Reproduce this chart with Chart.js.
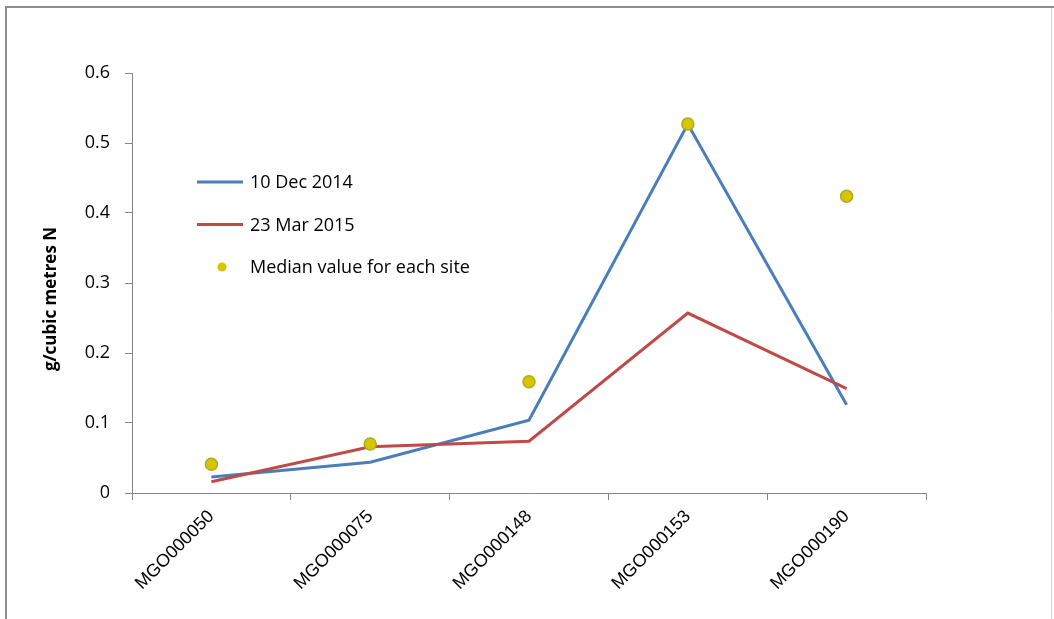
<!DOCTYPE html>
<html>
<head>
<meta charset="utf-8">
<script src="https://cdn.jsdelivr.net/npm/chart.js@4"></script>
<style>
  html, body { margin: 0; padding: 0; background: #ffffff; }
  #wrap { width: 1054px; height: 619px; position: relative; }
</style>
</head>
<body>
<div id="wrap"><canvas id="c" width="1054" height="619"></canvas></div>
<script>
// Monitoring sites along the x axis
const sites = ['MGO000050', 'MGO000075', 'MGO000148', 'MGO000153', 'MGO000190'];

// Nitrogen concentration, g/cubic metres N
const dec2014 = [0.023, 0.044, 0.104, 0.527, 0.126];
const mar2015 = [0.016, 0.066, 0.074, 0.257, 0.149];
const medianBySite = [0.041, 0.070, 0.159, 0.527, 0.424];

// Y axis tick labels
const yTickLabels = ['0', '0.1', '0.2', '0.3', '0.4', '0.5', '0.6'];

const seriesNames = ['10 Dec 2014', '23 Mar 2015', 'Median value for each site'];
const yAxisTitle = 'g/cubic metres N';

const BLUE = '#4a7ebb';
const RED = '#be4b48';
const DOT_FILL = '#d8c400';
const DOT_EDGE = '#a9ae1c';
const AXIS_GREY = '#868686';

// Grey frame around the figure
const framePlugin = {
  id: 'frame',
  beforeDraw(chart) {
    const ctx = chart.ctx;
    ctx.save();
    ctx.fillStyle = '#ffffff';
    ctx.fillRect(0, 0, chart.width, chart.height);
    ctx.strokeStyle = '#8e8e8e';
    ctx.lineWidth = 2;
    ctx.beginPath();
    ctx.moveTo(6, chart.height);
    ctx.lineTo(6, 7);
    ctx.lineTo(chart.width, 7);
    ctx.stroke();
    ctx.strokeStyle = '#d6d6d6';
    ctx.lineWidth = 1;
    ctx.beginPath();
    ctx.moveTo(1051.5, 8);
    ctx.lineTo(1051.5, chart.height);
    ctx.stroke();
    ctx.restore();
  }
};

// Vertical axis title, set a little below the plot's mid-height
const yTitlePlugin = {
  id: 'yTitle',
  afterDraw(chart) {
    const {ctx, chartArea} = chart;
    ctx.save();
    ctx.translate(51, (chartArea.top + chartArea.bottom) / 2 + 16);
    ctx.rotate(-Math.PI / 2);
    ctx.font = 'bold 17px "Open Sans"';
    ctx.fillStyle = '#000000';
    ctx.textAlign = 'center';
    ctx.textBaseline = 'middle';
    ctx.fillText(yAxisTitle, 0, 0);
    ctx.restore();
  }
};

// Legend drawn inside the plot area, left side
const insideLegend = {
  id: 'insideLegend',
  afterDatasetsDraw(chart) {
    const {ctx, chartArea} = chart;
    const x0 = chartArea.left + 65;
    const y0 = chartArea.top + 109;
    const gap = 42.5;
    ctx.save();
    ctx.font = '18px "Open Sans"';
    ctx.textBaseline = 'middle';
    ctx.textAlign = 'left';
    chart.data.datasets.forEach((ds, i) => {
      const y = y0 + i * gap;
      if (ds.showLine === false) {
        ctx.beginPath();
        ctx.arc(x0 + 25, y, 4.5, 0, Math.PI * 2);
        ctx.fillStyle = ds.pointBackgroundColor;
        ctx.fill();
      } else {
        ctx.beginPath();
        ctx.moveTo(x0, y);
        ctx.lineTo(x0 + 46, y);
        ctx.strokeStyle = ds.borderColor;
        ctx.lineWidth = 3;
        ctx.stroke();
      }
      ctx.fillStyle = '#000000';
      ctx.fillText(ds.label, x0 + 53, y + 1);
    });
    ctx.restore();
  }
};

new Chart(document.getElementById('c'), {
  type: 'line',
  data: {
    labels: sites,
    datasets: [
      {
        label: seriesNames[0],
        data: dec2014,
        borderColor: BLUE,
        backgroundColor: BLUE,
        borderWidth: 3,
        pointRadius: 0,
        tension: 0,
        order: 3
      },
      {
        label: seriesNames[1],
        data: mar2015,
        borderColor: RED,
        backgroundColor: RED,
        borderWidth: 3,
        pointRadius: 0,
        tension: 0,
        order: 2
      },
      {
        label: seriesNames[2],
        data: medianBySite,
        showLine: false,
        pointRadius: 6,
        pointBackgroundColor: DOT_FILL,
        pointBorderColor: DOT_EDGE,
        pointBorderWidth: 1.5,
        borderColor: DOT_EDGE,
        backgroundColor: DOT_FILL,
        order: 1
      }
    ]
  },
  options: {
    responsive: false,
    animation: false,
    devicePixelRatio: 1,
    layout: { padding: { left: 0, top: 73, right: 128, bottom: 0 } },
    plugins: {
      legend: { display: false },
      tooltip: { enabled: false }
    },
    scales: {
      x: {
        type: 'category',
        offset: true,
        afterFit(scale) { scale.height = 126; },
        grid: {
          offset: true,
          drawOnChartArea: false,
          drawTicks: true,
          tickLength: 7,
          color: AXIS_GREY
        },
        border: { display: true, color: AXIS_GREY, width: 1 },
        ticks: {
          maxRotation: 45,
          minRotation: 45,
          autoSkip: false,
          padding: 6,
          color: '#000000',
          font: { family: '"Liberation Sans", Arial, sans-serif', size: 18 }
        }
      },
      y: {
        min: 0,
        max: 0.6,
        afterFit(scale) { scale.width = 132; },
        afterBuildTicks(scale) {
          scale.ticks = yTickLabels.map(t => ({ value: parseFloat(t) }));
        },
        grid: {
          drawOnChartArea: false,
          drawTicks: true,
          tickLength: 7,
          color: AXIS_GREY
        },
        border: { display: true, color: AXIS_GREY, width: 1 },
        ticks: {
          padding: 15,
          color: '#000000',
          font: { family: '"Open Sans", sans-serif', size: 18 },
          callback(value, index) { return yTickLabels[index]; }
        },
        title: { display: false }
      }
    }
  },
  plugins: [framePlugin, yTitlePlugin, insideLegend]
});
</script>
</body>
</html>
